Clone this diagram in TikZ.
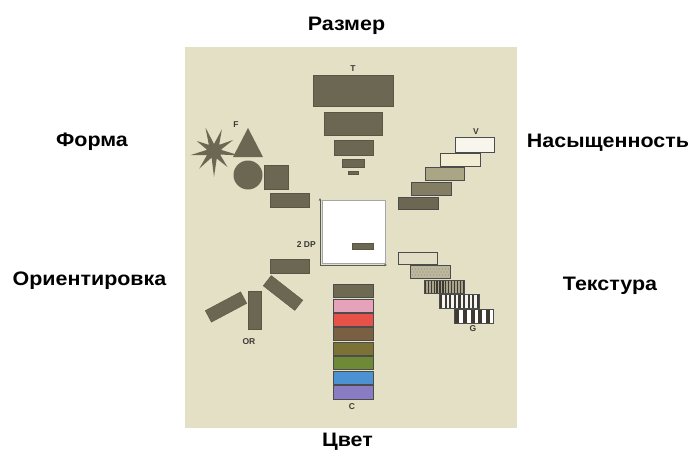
\documentclass[tikz,border=0pt]{standalone}
\usepackage{fontspec}
\setmainfont{Liberation Sans}
\usetikzlibrary{shapes.geometric,arrows.meta}
\definecolor{panel}{HTML}{E4E0C6}
\definecolor{shp}{HTML}{6C6752}
\definecolor{shpline}{HTML}{5A5644}
\definecolor{lab}{HTML}{3A3A34}
\definecolor{sat1}{HTML}{F8F6EC}
\definecolor{sat2}{HTML}{F1EDD2}
\definecolor{sat3}{HTML}{A9A585}
\definecolor{sat4}{HTML}{837D63}
\definecolor{sat5}{HTML}{6C6752}
\definecolor{tx1}{HTML}{E2DEC6}
\definecolor{tx2}{HTML}{BDB89C}
\definecolor{tx3}{HTML}{A8A48C}
\definecolor{stripe}{HTML}{3E3A30}
\definecolor{c1}{HTML}{6E6A52}
\definecolor{c2}{HTML}{E6A2BA}
\definecolor{c3}{HTML}{E8504A}
\definecolor{c4}{HTML}{7A6042}
\definecolor{c5}{HTML}{7C7236}
\definecolor{c6}{HTML}{6E8A36}
\definecolor{c7}{HTML}{4C92D2}
\definecolor{c8}{HTML}{8A7CC2}
\newcommand{\wideT}[1]{\scalebox{1.1}[1]{#1}}
\tikzset{
  blk/.style={fill=shp, draw=shpline, line width=0.4pt},
  satbox/.style={draw=gray!60!black, line width=0.4pt, fill=#1},
  colbox/.style={draw=gray!60!black, line width=0.4pt, fill=#1},
  outer/.style={font=\fontsize{19.5}{21}\selectfont\bfseries, text=black, inner sep=0, anchor=base},
  small/.style={font=\fontsize{8.5}{9}\selectfont\bfseries, text=lab, inner sep=0},
  rrect/.style={rectangle, fill=shp, draw=shpline, line width=0.4pt, inner sep=0, minimum width=40pt, minimum height=13pt},
}
\begin{document}
\begin{tikzpicture}[x=1pt,y=-1pt]
\useasboundingbox (0,0) rectangle (695,452);
\fill[white] (0,0) rectangle (695,452);
\fill[panel] (185,47) rectangle (517,428);

% outer labels
\node[outer] (razmer) at (346.5,31) {\wideT{Размер}};
\node[outer] (forma) at (92,146.5) {\wideT{Форма}};
\node[outer] (nas) at (608,147) {\wideT{Насыщенность}};
\node[outer] (orient) at (89.5,285) {\wideT{Ориентировка}};
\node[outer] (tekst) at (610,290) {\wideT{Текстура}};
\node[outer] (cvet) at (347.5,446.5) {\wideT{Цвет}};

% Size
\node[small] (T) at (353,69) {T};
\draw[blk] (313,75) rectangle (393,106);
\draw[blk] (324,112) rectangle (382,135);
\draw[blk] (334,140) rectangle (373,155);
\draw[blk] (342,159) rectangle (364,167);
\draw[blk] (348,171) rectangle (358,174);

% Form
\node[small] (F) at (236,125) {F};
\begin{scope}[shift={(214,151)}]
\fill[shp] (10:26) -- (30:7) -- (50:21) -- (70:8) -- (90:26) -- (110:7)
  -- (130:23) -- (150:8) -- (170:24) -- (190:7) -- (210:20) -- (230:8)
  -- (250:25) -- (270:7) -- (290:23) -- (310:8) -- (330:22) -- (350:7) -- cycle;
\end{scope}
\fill[shp] (233,157) -- (263,157) -- (248,128) -- cycle;
\fill[shp] (248,175) circle (14.5pt);
\draw[blk] (264,165) rectangle (288,189);
\draw[blk] (270,193) rectangle (309,207);

% Center box
\draw[gray!70, line width=0.4pt, fill=white] (322,200) rectangle (385,263);
\draw[gray!70!black, line width=0.5pt, -{Stealth[length=3pt,width=2.5pt]}] (320,265) -- (320,198);
\draw[gray!70!black, line width=0.5pt, -{Stealth[length=3pt,width=2.5pt]}] (320,265) -- (387,265);
\draw[blk] (352,243) rectangle (373,249);
\node[small,anchor=east] (dp) at (316,245) {2 DP};

% Saturation
\node[small] (V) at (476,132) {V};
\draw[satbox=sat1] (455,137) rectangle (494,152);
\draw[satbox=sat2] (440,153) rectangle (480,166);
\draw[satbox=sat3] (425,167) rectangle (464,180);
\draw[satbox=sat4] (411,182) rectangle (451,195);
\draw[satbox=sat5] (398,197) rectangle (438,209);

% Texture
\draw[satbox=tx1] (398,252) rectangle (437,264);
\fill[tx2] (410,265) rectangle (450,278);
\begin{scope}
  \clip (410,265) rectangle (450,278);
  \foreach \i in {0,...,13} {\foreach \j in {0,...,4} {
    \pgfmathsetmacro{\px}{411+\i*3+mod(\j,2)*1.5}
    \pgfmathsetmacro{\py}{266+\j*3}
    \fill[gray!70!tx2] (\px,\py) circle (0.6pt);}}
\end{scope}
\draw[gray!60!black, line width=0.4pt] (410,265) rectangle (450,278);
\fill[tx3] (424,280) rectangle (464,293);
\begin{scope}
  \clip (424,280) rectangle (464,293);
  \foreach \k in {0,...,13} {\fill[stripe] ({424.8+\k*2.9},280) rectangle ({426.1+\k*2.9},293);}
\end{scope}
\draw[gray!60!black, line width=0.4pt] (424,280) rectangle (464,293);
\fill[gray!8] (439,294) rectangle (479,308);
\begin{scope}
  \clip (439,294) rectangle (479,308);
  \foreach \k in {0,...,8} {\fill[stripe] ({440+\k*4.6},294) rectangle ({442.2+\k*4.6},308);}
\end{scope}
\draw[gray!60!black, line width=0.4pt] (439,294) rectangle (479,308);
\fill[white] (454,309) rectangle (493,323);
\begin{scope}
  \clip (454,309) rectangle (493,323);
  \foreach \k in {0,...,4} {\fill[stripe] ({455+\k*7.8},309) rectangle ({459+\k*7.8},323);}
\end{scope}
\draw[gray!60!black, line width=0.4pt] (454,309) rectangle (493,323);
\node[small] (G) at (473,329) {G};

% Orientation
\draw[blk] (270,259) rectangle (309,273);
\node[rrect, rotate=-38] (or1) at (283,293) {};
\node[rrect, minimum width=38pt, rotate=90] (or2) at (254.5,310) {};
\node[rrect, rotate=28] (or3) at (226,307) {};
\node[small] (OR) at (249,342) {OR};

% Colour
\draw[colbox=c1] (333,284) rectangle (373,297.5);
\draw[colbox=c2] (333,299) rectangle (373,312);
\draw[colbox=c3] (333,313) rectangle (373,326);
\draw[colbox=c4] (333,327) rectangle (373,340.5);
\draw[colbox=c5] (333,342) rectangle (373,355);
\draw[colbox=c6] (333,356) rectangle (373,369.5);
\draw[colbox=c7] (333,371) rectangle (373,384);
\draw[colbox=c8] (333,385) rectangle (373,399);
\node[small] (C) at (352,407) {C};
\end{tikzpicture}
\end{document}
